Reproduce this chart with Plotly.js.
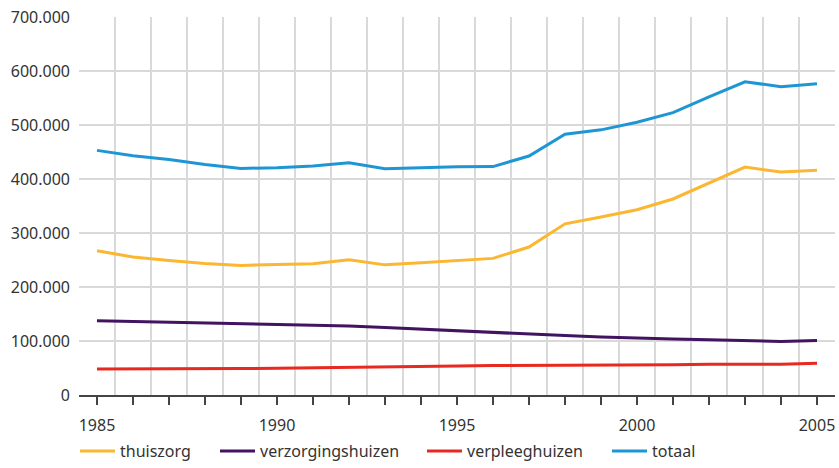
<!DOCTYPE html>
<html>
<head>
<meta charset="utf-8">
<script src="https://cdn.plot.ly/plotly-3.0.1.min.js"></script>
<style>html,body{margin:0;padding:0;background:#fff;}#chart{width:839px;height:468px;}</style>
</head>
<body>
<div id="chart"></div>
<script>
const years = [1985,1986,1987,1988,1989,1990,1991,1992,1993,1994,1995,1996,1997,1998,1999,2000,2001,2002,2003,2004,2005];
const thuiszorg = [267000,255500,249000,243500,240000,241000,243000,250500,241000,245000,249000,253000,274000,317000,329500,343000,363000,392500,422000,413000,416000];
const verzorgingshuizen = [137500,136000,135000,133000,132000,130700,129600,127700,125000,122000,119000,116000,112000,110000,107400,105000,103600,102400,101000,99000,101000];
const verpleeghuizen = [48000,48000,48800,49000,49000,49400,50000,51000,51000,52400,53500,54700,54700,56000,56000,56000,56000,57000,57000,57000,59000];
const totaal = [453000,443000,436000,427000,419600,421000,424000,430000,419000,421000,422500,423000,442600,483000,491000,505000,523000,552000,580000,571000,576500];

const seriesNames = ['thuiszorg','verzorgingshuizen','verpleeghuizen','totaal'];
const seriesColors = ['#fbb731','#42145f','#e8291f','#1f96d4'];
const legendIds = ['legend','legend2','legend3','legend4'];

const xTickVals = years;
const xTickText = years.map(y => (y % 5 === 0 ? String(y) : ''));
const xGridVals = [1984.5,1985.5,1986.5,1987.5,1988.5,1989.5,1990.5,1991.5,1992.5,1993.5,1994.5,1995.5,1996.5,1997.5,1998.5,1999.5,2000.5,2001.5,2002.5,2003.5,2004.5];
const yTickVals = [0,100000,200000,300000,400000,500000,600000,700000];
const yTickText = ['0','100.000','200.000','300.000','400.000','500.000','600.000','700.000'];

const allSeries = [thuiszorg, verzorgingshuizen, verpleeghuizen, totaal];
const traces = allSeries.map((vals, i) => ({
  x: years, y: vals, type: 'scatter', mode: 'lines', name: seriesNames[i],
  legend: legendIds[i],
  line: {color: seriesColors[i], width: 3}, hoverinfo: 'skip'
}));

const font = {family: '"Noto Sans", sans-serif', size: 16, color: '#333333'};
const legendX = [-0.0053, 0.1799, 0.4537, 0.6984];
const layout = {
  width: 839, height: 468,
  margin: {l: 79, r: 4, t: 17, b: 73, pad: 0},
  paper_bgcolor: '#ffffff', plot_bgcolor: '#ffffff',
  font: font,
  showlegend: true,
  xaxis: {
    range: [1984.5, 2005.5], tickmode: 'array', tickvals: xTickVals, ticktext: xTickText,
    showgrid: false, zeroline: false, showline: true, linecolor: '#444444', linewidth: 1.5,
    ticks: 'outside', ticklen: 8, tickwidth: 1.5, tickcolor: '#444444',
    tickfont: font, ticklabelstandoff: 7, fixedrange: true,
    minor: {tickmode: 'array', tickvals: xGridVals, showgrid: true, gridcolor: '#d9d9d9', gridwidth: 1.5, ticks: ''}
  },
  yaxis: {
    range: [0, 700000], tickmode: 'array', tickvals: yTickVals, ticktext: yTickText,
    showgrid: true, gridcolor: '#d9d9d9', gridwidth: 1.5, zeroline: false, showline: false,
    ticks: '', tickfont: font, ticklabelstandoff: 8, fixedrange: true
  }
};
legendIds.forEach((id, i) => {
  layout[id] = {orientation: 'h', x: legendX[i], xanchor: 'left', xref: 'paper',
                y: -0.008, yanchor: 'bottom', yref: 'container',
                font: font, itemwidth: 35, bgcolor: 'rgba(0,0,0,0)'};
});
Plotly.newPlot('chart', traces, layout, {displayModeBar: false, staticPlot: true});
</script>
</body>
</html>
